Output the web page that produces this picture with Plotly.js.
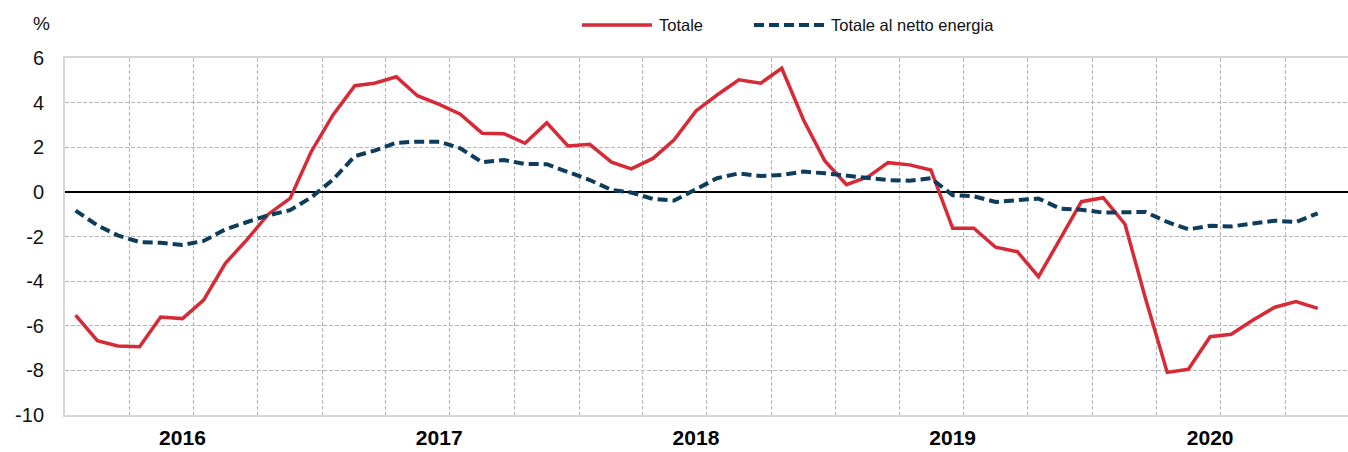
<!DOCTYPE html>
<html>
<head>
<meta charset="utf-8">
<script src="https://cdn.plot.ly/plotly-3.0.1.min.js"></script>
<style>
  html, body { margin: 0; padding: 0; background: #ffffff; }
  #chart { width: 1348px; height: 452px; }
</style>
</head>
<body>
<div id="chart"></div>
<script>
// ---- data ----
const firstYear = 2016;
const nMonths = 59; // Jan 2016 .. Nov 2020
const months = [];
for (let i = 0; i < nMonths; i++) {
  const y = firstYear + Math.floor(i / 12);
  const m = (i % 12) + 1;
  months.push(y + '-' + String(m).padStart(2, '0'));
}

const totale = [
  -5.52, -6.67, -6.91, -6.94, -5.61, -5.68, -4.85, -3.20, -2.13, -1.00, -0.29, 1.80,
   3.45,  4.76,  4.87,  5.16,  4.31,  3.92,  3.48,  2.63,  2.61,  2.18,  3.10, 2.06,
   2.13,  1.33,  1.03,  1.50,  2.33,  3.63,  4.34,  5.02,  4.87,  5.54,  3.22, 1.40,
   0.32,  0.68,  1.31,  1.21,  0.98, -1.63, -1.63, -2.48, -2.68, -3.80, -2.10, -0.44,
  -0.26, -1.45, -4.77, -8.09, -7.95, -6.49, -6.38, -5.74, -5.17, -4.92, -5.22
];

const nettoEnergia = [
  -0.84, -1.50, -1.95, -2.25, -2.28, -2.38, -2.20, -1.68, -1.35, -1.05, -0.82, -0.25,
   0.55,  1.60,  1.85,  2.20,  2.25,  2.25,  1.95,  1.33,  1.43,  1.25,  1.24,  0.88,
   0.53,  0.09, -0.03, -0.32, -0.39,  0.12,  0.61,  0.83,  0.71,  0.76,  0.91,  0.83,
   0.73,  0.61,  0.53,  0.50,  0.61, -0.15, -0.20, -0.45, -0.38, -0.30, -0.75, -0.80,
  -0.93, -0.90, -0.90, -1.35, -1.68, -1.52, -1.55, -1.42, -1.29, -1.35, -0.96
];

const seriesNames = ['Totale', 'Totale al netto energia'];
const yearLabels = ['2016', '2017', '2018', '2019', '2020'];
const yTicks = [-10, -8, -6, -4, -2, 0, 2, 4, 6];
const yUnit = '%';

// ---- styling ----
const RED = '#d62a36';
const BLUE = '#0c3d5c';
const GRID = '#b5b5b5';
const AXIS = '#d6d6d6';
const SANS = '"Liberation Sans", Arial, sans-serif';

const xDates = months.map(m => m + '-16');
const yearTickVals = yearLabels.map(y => y + '-06-16');

const W = 1348, H = 452;
const L = 65, T = 58, B = 37, R = 0;
const plotW = W - L - R, plotH = H - T - B;
const px = p => (p - L) / plotW;
const py = p => (H - B - p) / plotH;

const traces = [
  {
    x: xDates, y: totale, name: seriesNames[0], type: 'scatter', mode: 'lines',
    line: { color: RED, width: 3.5 }, showlegend: false
  },
  {
    x: xDates, y: nettoEnergia, name: seriesNames[1], type: 'scatter', mode: 'lines',
    line: { color: BLUE, width: 4, dash: '10px,5px' }, showlegend: false
  }
];

const legendY = py(25);
const shapes = [
  { type: 'line', xref: 'paper', yref: 'paper', x0: px(582), x1: px(652), y0: legendY, y1: legendY,
    line: { color: RED, width: 3.5 } },
  { type: 'line', xref: 'paper', yref: 'paper', x0: px(754), x1: px(824), y0: legendY, y1: legendY,
    line: { color: BLUE, width: 4, dash: '10px,5px' } }
];

const annotations = [
  { xref: 'paper', yref: 'paper', x: px(657), y: legendY, xanchor: 'left', yanchor: 'middle',
    text: seriesNames[0], showarrow: false, font: { family: SANS, size: 16.5, color: '#111' } },
  { xref: 'paper', yref: 'paper', x: px(829), y: legendY, xanchor: 'left', yanchor: 'middle',
    text: seriesNames[1], showarrow: false, font: { family: SANS, size: 16.5, color: '#111' } },
  { xref: 'paper', yref: 'paper', x: px(41), y: py(24), xanchor: 'center', yanchor: 'middle',
    text: yUnit, showarrow: false, font: { family: SANS, size: 19, color: '#111' } }
];

const layout = {
  width: W, height: H,
  margin: { l: L, r: R, t: T, b: B, pad: 0 },
  paper_bgcolor: '#ffffff', plot_bgcolor: '#ffffff',
  showlegend: false,
  xaxis: {
    type: 'date',
    range: ['2016-01-01', '2020-12-29'],
    tickmode: 'array', tickvals: yearTickVals, ticktext: yearLabels,
    ticks: '', showgrid: false, zeroline: false,
    showline: true, linecolor: AXIS, linewidth: 2, mirror: true,
    tickfont: { family: SANS, size: 21, color: '#000', weight: 'bold' },
    ticklabelstandoff: 3,
    minor: { dtick: 'M3', tick0: '2016-01-01', showgrid: true, gridcolor: GRID, gridwidth: 1, griddash: '4px,2px', ticks: '' }
  },
  yaxis: {
    range: [-10, 6],
    tickmode: 'array', tickvals: yTicks, ticktext: yTicks.map(String),
    ticks: '', showgrid: true, gridcolor: GRID, gridwidth: 1, griddash: '4px,2px',
    zeroline: true, zerolinecolor: '#000', zerolinewidth: 2.5,
    showline: true, linecolor: AXIS, linewidth: 2,
    tickfont: { family: SANS, size: 20, color: '#111' },
    ticklabelstandoff: 15
  },
  shapes: shapes,
  annotations: annotations
};

Plotly.newPlot('chart', traces, layout, { displayModeBar: false, staticPlot: true });
</script>
</body>
</html>
